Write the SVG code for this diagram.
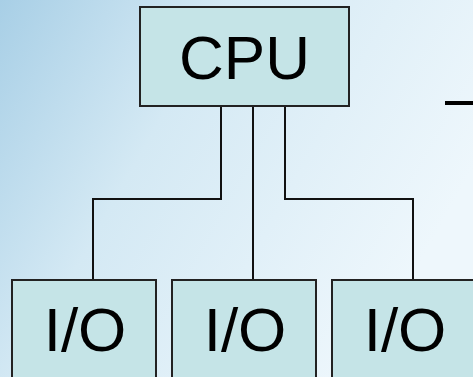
<svg xmlns="http://www.w3.org/2000/svg" width="473" height="377" viewBox="0 0 473 377">
  <defs>
    <linearGradient id="bg" x1="0" y1="0" x2="1" y2="0.45">
      <stop offset="0" stop-color="#a8cfe6"/>
      <stop offset="0.4" stop-color="#d4e9f4"/>
      <stop offset="1" stop-color="#eef7fc"/>
    </linearGradient>
    <style>
      .box { fill: #c5e4e7; stroke: #222; stroke-width: 2; }
      .wire { fill: none; stroke: #111; stroke-width: 2; }
      .label { font-family: "Liberation Sans", Arial, sans-serif; font-size: 62px; fill: #000; text-anchor: middle; }
    </style>
  </defs>

  <rect width="473" height="377" fill="url(#bg)"/>

  <!-- connectors from the CPU down to each I/O unit -->
  <g id="connectors">
    <polyline class="wire" points="221,106 221,199 93,199 93,280"/>
    <line class="wire" x1="253" y1="106" x2="253" y2="280"/>
    <polyline class="wire" points="285,106 285,199 413,199 413,280"/>
  </g>

  <g id="cpu">
    <rect class="box" x="140" y="7" width="209" height="99"/>
    <text class="label" x="244.5" y="79">CPU</text>
  </g>

  <g id="io1">
    <rect class="box" x="12" y="280" width="144" height="110"/>
    <text class="label" x="85" y="351">I/O</text>
  </g>
  <g id="io2">
    <rect class="box" x="172" y="280" width="144" height="110"/>
    <text class="label" x="245" y="351">I/O</text>
  </g>
  <g id="io3">
    <rect class="box" x="332" y="280" width="144" height="110"/>
    <text class="label" x="405" y="351">I/O</text>
  </g>

  <!-- short rule at the right edge -->
  <rect x="445" y="101" width="28" height="4" fill="#000"/>
</svg>
